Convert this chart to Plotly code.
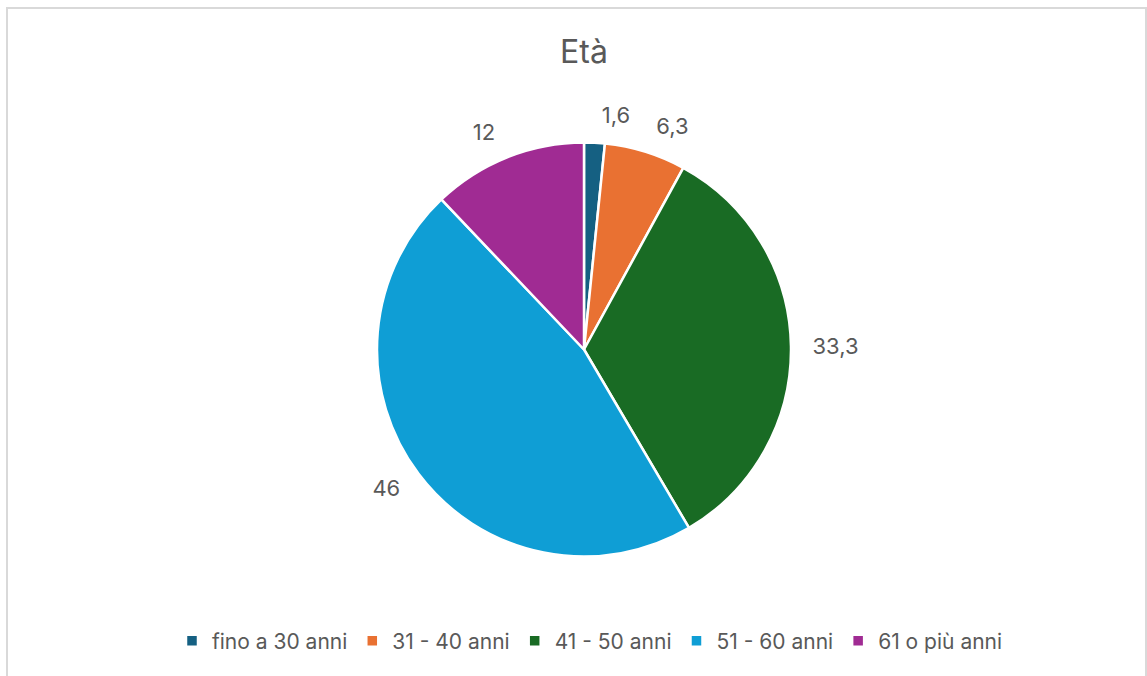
import plotly.graph_objects as go

# Age distribution (percent of respondents)
categories = ["fino a 30 anni", "31 - 40 anni", "41 - 50 anni", "51 - 60 anni", "61 o più anni"]
values = [1.6, 6.3, 33.3, 46, 12]
colors = ["#156082", "#E97132", "#196B24", "#0F9ED5", "#A02B93"]

W, H = 1147, 676
TEXT_GREY = "#595959"
FONT = "Inter"

# pie centre and radii in pixels
CX, CY = 584, 349.5
R_PIE = 207
R_LABEL = 222


def domain(r):
    return dict(
        x=[(CX - r) / W, (CX + r) / W],
        y=[1 - (CY + r) / H, 1 - (CY - r) / H],
    )


fig = go.Figure()

fig.add_trace(
    go.Pie(
        labels=categories,
        values=values,
        sort=False,
        direction="clockwise",
        rotation=0,
        marker=dict(colors=colors, line=dict(color="white", width=2.5)),
        textinfo="none",
        hoverinfo="skip",
        domain=domain(R_PIE),
    )
)

# transparent rings carrying the value labels a little outside the pie;
# the small first slice gets its own ring so its label is not shifted
label_sets = [
    ["outside", "none", "none", "none", "none"],
    ["none", "outside", "outside", "outside", "outside"],
]
for positions in label_sets:
    fig.add_trace(
        go.Pie(
            labels=categories,
            values=values,
            sort=False,
            direction="clockwise",
            rotation=0,
            marker=dict(colors=["rgba(0,0,0,0)"] * len(values), line=dict(width=0)),
            texttemplate="%{value}",
            textposition=positions,
            outsidetextfont=dict(size=22, color=TEXT_GREY, family=FONT),
            hoverinfo="skip",
            showlegend=False,
            domain=domain(R_LABEL),
        )
    )

fig.update_layout(
    width=W,
    height=H,
    margin=dict(l=0, r=0, t=0, b=0),
    paper_bgcolor="white",
    separators=",.",
    font=dict(family=FONT, color=TEXT_GREY, size=21),
    title=dict(
        text="Età",
        x=CX / W,
        xanchor="center",
        y=1 - 52 / H,
        yanchor="middle",
        font=dict(size=32, color=TEXT_GREY, family=FONT),
    ),
    legend=dict(
        orientation="h",
        x=590 / W,
        xanchor="center",
        y=1 - 641 / H,
        yanchor="middle",
        font=dict(size=21, color=TEXT_GREY, family=FONT),
        itemclick=False,
        itemdoubleclick=False,
    ),
    shapes=[
        dict(
            type="rect",
            xref="paper",
            yref="paper",
            x0=7 / W,
            x1=1146 / W,
            y0=-0.05,
            y1=1 - 8 / H,
            line=dict(color="#D9D9D9", width=2),
            layer="below",
        )
    ],
)

fig.write_html("out.html")
